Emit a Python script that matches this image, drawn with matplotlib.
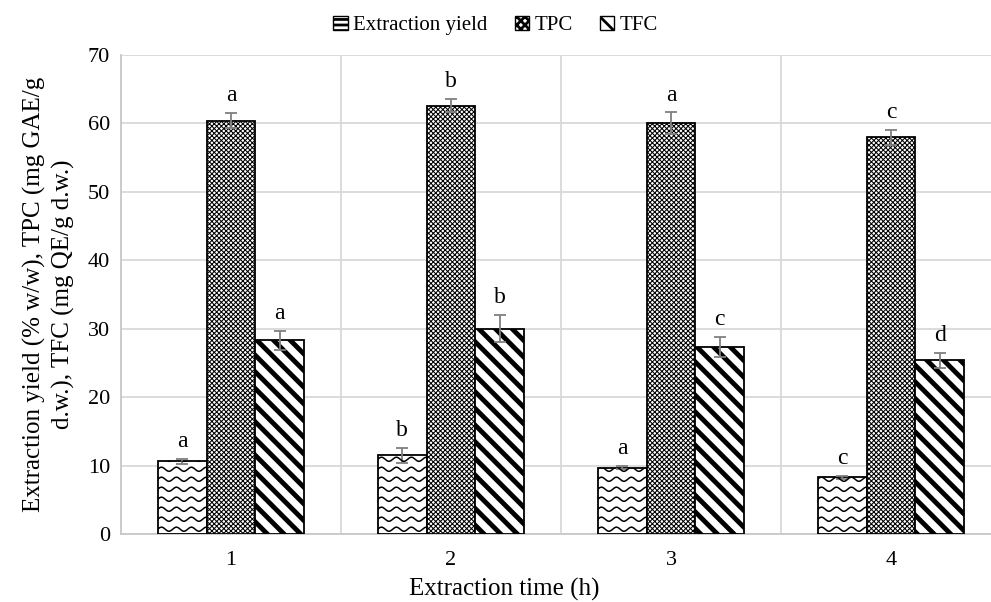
import numpy as np
import matplotlib
matplotlib.use("Agg")
import matplotlib.pyplot as plt
from matplotlib.patches import Patch

plt.rcParams['font.family'] = ['Liberation Serif', 'DejaVu Serif']

# data
times = [1, 2, 3, 4]
series = ["Extraction yield", "TPC", "TFC"]
yield_vals = [10.6, 11.5, 9.7, 8.3]
yield_err = [0.4, 1.1, 0.2, 0.2]
tpc_vals = [60.4, 62.6, 60.0, 58.0]
tpc_err = [1.1, 1.0, 1.6, 1.1]
tfc_vals = [28.3, 30.0, 27.3, 25.4]
tfc_err = [1.4, 2.0, 1.5, 1.1]
yield_letters = ["a", "b", "a", "c"]
tpc_letters = ["a", "b", "a", "c"]
tfc_letters = ["a", "b", "c", "d"]

fig = plt.figure(figsize=(9.91, 6.02), dpi=100)
ax = fig.add_axes([121 / 991, 68 / 602, 880 / 991, 479 / 602])

x = np.arange(len(times))
w = 0.222
ecolor = "#7f7f7f"
ekw = dict(ecolor=ecolor, elinewidth=1.3, capsize=4, capthick=1.3)

tpc_hatch = "xxxxxxx"
tfc_hatch = "\\\\"

plt.rcParams['hatch.linewidth'] = 1.0
b1 = ax.bar(x - w, yield_vals, w, yerr=yield_err, color="white",
            edgecolor="black", linewidth=1.3, error_kw=ekw, zorder=3)
h1 = Patch(facecolor="white", edgecolor="black", hatch="---")
plt.rcParams['hatch.linewidth'] = 0.75
b2 = ax.bar(x, tpc_vals, w, yerr=tpc_err, color="white", hatch=tpc_hatch,
            edgecolor="black", linewidth=1.3, error_kw=ekw, zorder=3)
plt.rcParams['hatch.linewidth'] = 0.6
h2 = Patch(facecolor="white", edgecolor="black", hatch="xxxx")
plt.rcParams['hatch.linewidth'] = 3.5
b3 = ax.bar(x + w, tfc_vals, w, yerr=tfc_err, color="white", hatch=tfc_hatch,
            edgecolor="black", linewidth=1.3, error_kw=ekw, zorder=3)
plt.rcParams['hatch.linewidth'] = 2.0
h3 = Patch(facecolor="white", edgecolor="black", hatch=tfc_hatch)

# wavy fill for the extraction yield bars
for bar in b1:
    x0 = bar.get_x()
    xs = np.linspace(x0, x0 + bar.get_width(), 200)
    for base in np.arange(0.7, bar.get_height() + 1, 1.46):
        ys = base + 0.3 * np.sin(2 * np.pi * (xs - x0) / 0.068)
        ln, = ax.plot(xs, ys, color="black", lw=1.1, zorder=3.5)
        ln.set_clip_path(bar)

# significance letters
for bars, vals, errs, letters in [(b1, yield_vals, yield_err, yield_letters),
                                  (b2, tpc_vals, tpc_err, tpc_letters),
                                  (b3, tfc_vals, tfc_err, tfc_letters)]:
    for bar, v, e, t in zip(bars, vals, errs, letters):
        ax.annotate(t, (bar.get_x() + bar.get_width() / 2, v + e),
                    xytext=(0, 5), textcoords="offset points",
                    ha="center", va="bottom", fontsize=17)

ax.set_xlim(-0.5, len(times) - 0.5)
ax.set_ylim(0, 70)
ax.set_yticks(range(0, 71, 10))
ax.set_xticks(x)
ax.set_xticklabels([str(t) for t in times])
ax.tick_params(length=0, labelsize=16, pad=8)
ax.tick_params(axis="x", pad=12)

ax.set_axisbelow(True)
ax.yaxis.grid(True, color="#d9d9d9", lw=1.3)
ax.set_xticks(np.arange(-0.5, len(times), 1), minor=True)
ax.xaxis.grid(True, which="minor", color="#d9d9d9", lw=1.3)
ax.tick_params(which="minor", length=0)
for s in ["top", "right"]:
    ax.spines[s].set_visible(False)
for s in ["left", "bottom"]:
    ax.spines[s].set_color("#c8c8c8")
    ax.spines[s].set_linewidth(1.3)

ax.set_xlabel("Extraction time (h)", fontsize=18, labelpad=6)
ax.xaxis.label.set_x(0.436)
ax.set_ylabel("Extraction yield (% w/w), TPC (mg GAE/g\nd.w.), TFC (mg QE/g d.w.)",
              fontsize=18, labelpad=9, linespacing=1.35)

fig.legend([h1, h2, h3], series, loc="upper center", bbox_to_anchor=(0.5, 1.005),
           ncol=3, frameon=False, fontsize=15, handlelength=0.7,
           handleheight=0.7, handletextpad=0.25, columnspacing=1.3)

fig.savefig("out.png", dpi=100)
